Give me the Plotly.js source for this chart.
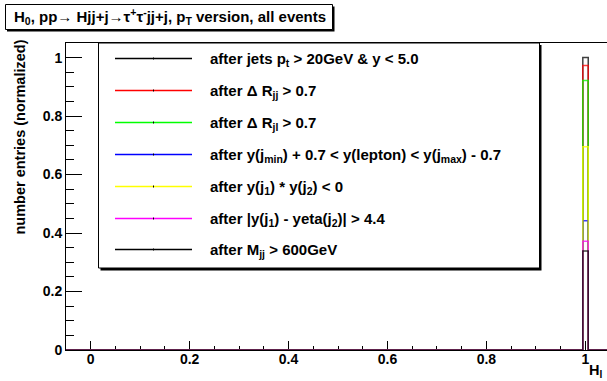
<!DOCTYPE html>
<html>
<head>
<meta charset="utf-8">
<script src="https://cdn.plot.ly/plotly-3.0.1.min.js"></script>
<style>
html, body { margin:0; padding:0; overflow:hidden; background:#fff; }
#chart { width:620px; height:381px; }
</style>
</head>
<body>
<div id="chart"></div>
<script>
// ---- data ----
const histMin = -0.05;
const histMax = 1.05;
const nBins = 100;
const filledX = 1.0;   // all entries fall in the bin containing x = 1
const cutLabels = [
  "after jets p<sub>t</sub> &gt; 20GeV &amp; y &lt; 5.0",
  "after Δ R<sub>jj</sub> &gt; 0.7",
  "after Δ R<sub>jl</sub> &gt; 0.7",
  "after y(j<sub>min</sub>) + 0.7 &lt; y(lepton) &lt; y(j<sub>max</sub>) - 0.7",
  "after y(j<sub>1</sub>) * y(j<sub>2</sub>) &lt; 0",
  "after |y(j<sub>1</sub>) - yeta(j<sub>2</sub>)| &gt; 4.4",
  "after M<sub>jj</sub> &gt; 600GeV"
];
const binContents = [1.0, 0.973, 0.922, 0.442, 0.695, 0.372, 0.339];
const xTickVals = [0, 0.2, 0.4, 0.6, 0.8, 1];
const yTickVals = [0, 0.2, 0.4, 0.6, 0.8, 1];
const titleText = "H<sub>0</sub>, pp→ Hjj+j→τ<sup>+</sup>τ<sup>-</sup>jj+j, p<sub>T</sub> version, all events";
const xTitle = "H<sub>l</sub>";
const yTitle = "number entries (normalized)";

// ---- styles ----
const lineColors = ['#000000','#ff0000','#00ff00','#0000ff','#ffff00','#ff00ff','#000000'];
const FONT = 'Liberation Sans, Arial, Helvetica, sans-serif';

// ---- geometry helpers (pixel -> paper) ----
const L = 66, T = 43, W = 544, H = 307;
const FW = 620, FH = 381;
const px = v => (v - L) / W;
const py = v => (T + H - v) / H;

// ---- build histograms ----
const bw = (histMax - histMin) / nBins;
const edges = [];
for (let i = 0; i <= nBins; i++) edges.push(histMin + i * bw);
const filledBin = Math.floor((filledX - histMin) / bw);

const traces = binContents.map((v, k) => {
  const counts = new Array(nBins).fill(0);
  counts[filledBin] = v;
  const y = counts.concat([counts[nBins - 1]]);
  return {
    x: edges, y: y, type: 'scatter', mode: 'lines',
    line: { shape: 'hv', color: lineColors[k], width: 1.5 },
    opacity: 0.75, showlegend: false, hoverinfo: 'skip'
  };
});

// ---- legend and title boxes ----
const shapes = [];
const annotations = [];
// title box shadow + box
shapes.push({type:'rect', xref:'paper', yref:'paper', x0:px(7), x1:px(334.5), y0:py(6.5), y1:py(31.5),
  fillcolor:'#000', line:{width:0}});
shapes.push({type:'rect', xref:'paper', yref:'paper', x0:px(5.5), x1:px(332.5), y0:py(4.5), y1:py(29.5),
  fillcolor:'#fff', line:{color:'#000', width:1}});
annotations.push({xref:'paper', yref:'paper', x:px(12), y:py(17), xanchor:'left', yanchor:'middle',
  text:titleText, showarrow:false, font:{family:FONT, size:15, color:'#000', weight:'bold'}});

// legend box shadow + box
shapes.push({type:'rect', xref:'paper', yref:'paper', x0:px(100.5), x1:px(541.5), y0:py(45), y1:py(270.5),
  fillcolor:'#000', line:{width:0}});
shapes.push({type:'rect', xref:'paper', yref:'paper', x0:px(98.5), x1:px(539.5), y0:py(43), y1:py(268),
  fillcolor:'#fff', line:{color:'#000', width:1}});
const entryY0 = 58, entryDY = 31.9;
cutLabels.forEach((lab, k) => {
  const yy = Math.round(entryY0 + k * entryDY) + 0.5;
  shapes.push({type:'line', xref:'paper', yref:'paper', x0:px(115), x1:px(192), y0:py(yy), y1:py(yy),
    line:{color:lineColors[k], width:1.5}});
  shapes.push({type:'line', xref:'paper', yref:'paper', x0:px(153.5), x1:px(153.5), y0:py(yy-1), y1:py(yy+1),
    line:{color:'#000', width:1}});
  annotations.push({xref:'paper', yref:'paper', x:px(208), y:py(yy + 1), xanchor:'left', yanchor:'middle',
    text:lab, showarrow:false, font:{family:FONT, size:15, color:'#000', weight:'bold'}});
});

// axis titles
annotations.push({xref:'paper', yref:'paper', x:px(19), y:py(38), xanchor:'center', yanchor:'top',
  textangle:-90, text:yTitle, showarrow:false, font:{family:FONT, size:14.5, color:'#000', weight:'bold'}});
annotations.push({xref:'paper', yref:'paper', x:px(604), y:py(371), xanchor:'right', yanchor:'middle',
  text:xTitle, showarrow:false, font:{family:FONT, size:14.5, color:'#000', weight:'bold'}});

const layout = {
  width: FW, height: FH,
  margin: {l: L, t: T, r: FW - L - W, b: FH - T - H, pad: 0},
  paper_bgcolor: '#fff', plot_bgcolor: '#fff',
  showlegend: false,
  xaxis: {
    range: [histMin, histMax], tickvals: xTickVals, ticktext: xTickVals.map(String),
    ticks: 'inside', ticklen: 9, tickwidth: 1, tickcolor: '#000', ticklabelstandoff: -4,
    minor: {dtick: 0.05, tick0: 0, ticks: 'inside', ticklen: 4.5, tickcolor: '#000', tickwidth: 1, showgrid: false},
    showline: true, linecolor: '#000', linewidth: 1, mirror: true,
    showgrid: false, zeroline: false, layer: 'below traces',
    tickfont: {family: FONT, size: 14, color: '#000', weight: 'bold'}
  },
  yaxis: {
    range: [0, 1.05], tickvals: yTickVals, ticktext: yTickVals.map(String),
    ticks: 'inside', ticklen: 16, tickwidth: 1, tickcolor: '#000',
    minor: {dtick: 0.05, tick0: 0, ticks: 'inside', ticklen: 8, tickcolor: '#000', tickwidth: 1, showgrid: false},
    showline: true, linecolor: '#000', linewidth: 1, mirror: true,
    showgrid: false, zeroline: false, layer: 'below traces',
    tickfont: {family: FONT, size: 14, color: '#000', weight: 'bold'}
  },
  shapes: shapes,
  annotations: annotations
};

Plotly.newPlot('chart', traces, layout, {staticPlot: true, displayModeBar: false});
</script>
</body>
</html>
